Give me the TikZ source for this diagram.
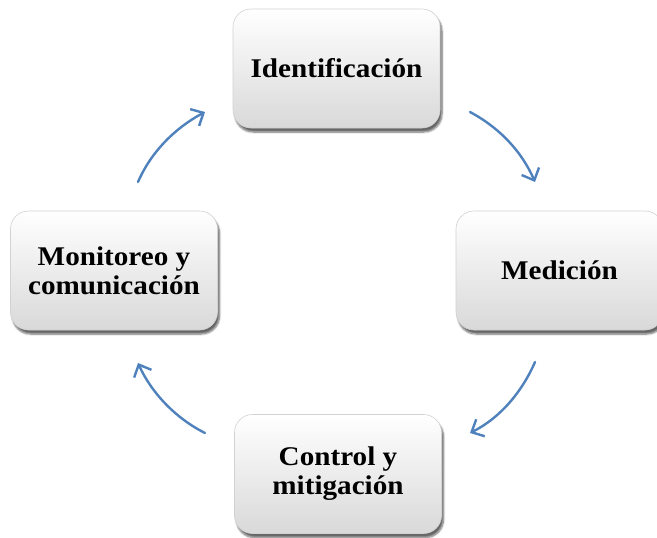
\documentclass[tikz,border=0pt]{standalone}
\usepackage{fontspec}
\setmainfont{Liberation Serif}[FakeStretch=1.08]
\usetikzlibrary{arrows.meta,shadows.blur}
\definecolor{arrowblue}{RGB}{79,129,189}
\tikzset{
  stepbox/.style={draw=gray!35, line width=0.6pt, rounded corners=18pt,
    minimum width=207pt, minimum height=119pt, top color=white, bottom color=black!15,
    blur shadow={shadow xshift=2pt, shadow yshift=-4pt, shadow blur steps=6, shadow opacity=60},
    align=center, font=\fontsize{27}{29}\selectfont\bfseries},
  cyc/.style={draw=arrowblue, line width=2.4pt, line cap=round,
    -{Straight Barb[length=10pt,width=19pt,line width=2.4pt]}}
}
\begin{document}
\begin{tikzpicture}[x=1pt,y=-1pt]
\useasboundingbox (0,0) rectangle (657,538);
\node[stepbox] (ide) at (336.5,68.5) {Identificación};
\node[stepbox] (med) at (559.5,270.5) {Medición};
\node[stepbox] (mon) at (114,270.5) {Monitoreo y\\comunicación};
\node[stepbox] (con) at (338,474) {Control y\\mitigación};
\coordinate (a1) at (470,112); \coordinate (a2) at (535,182);
\coordinate (b1) at (535,362); \coordinate (b2) at (470,433);
\coordinate (c1) at (205,433); \coordinate (c2) at (138,363);
\coordinate (d1) at (138,182); \coordinate (d2) at (205,112);
\draw[cyc] (a1) .. controls (500,128) and (522,152) .. (a2);
\draw[cyc] (b1) .. controls (522,392) and (500,418) .. (b2);
\draw[cyc] (c1) .. controls (175,418) and (151,392) .. (c2);
\draw[cyc] (d1) .. controls (151,152) and (175,128) .. (d2);
\end{tikzpicture}
\end{document}
